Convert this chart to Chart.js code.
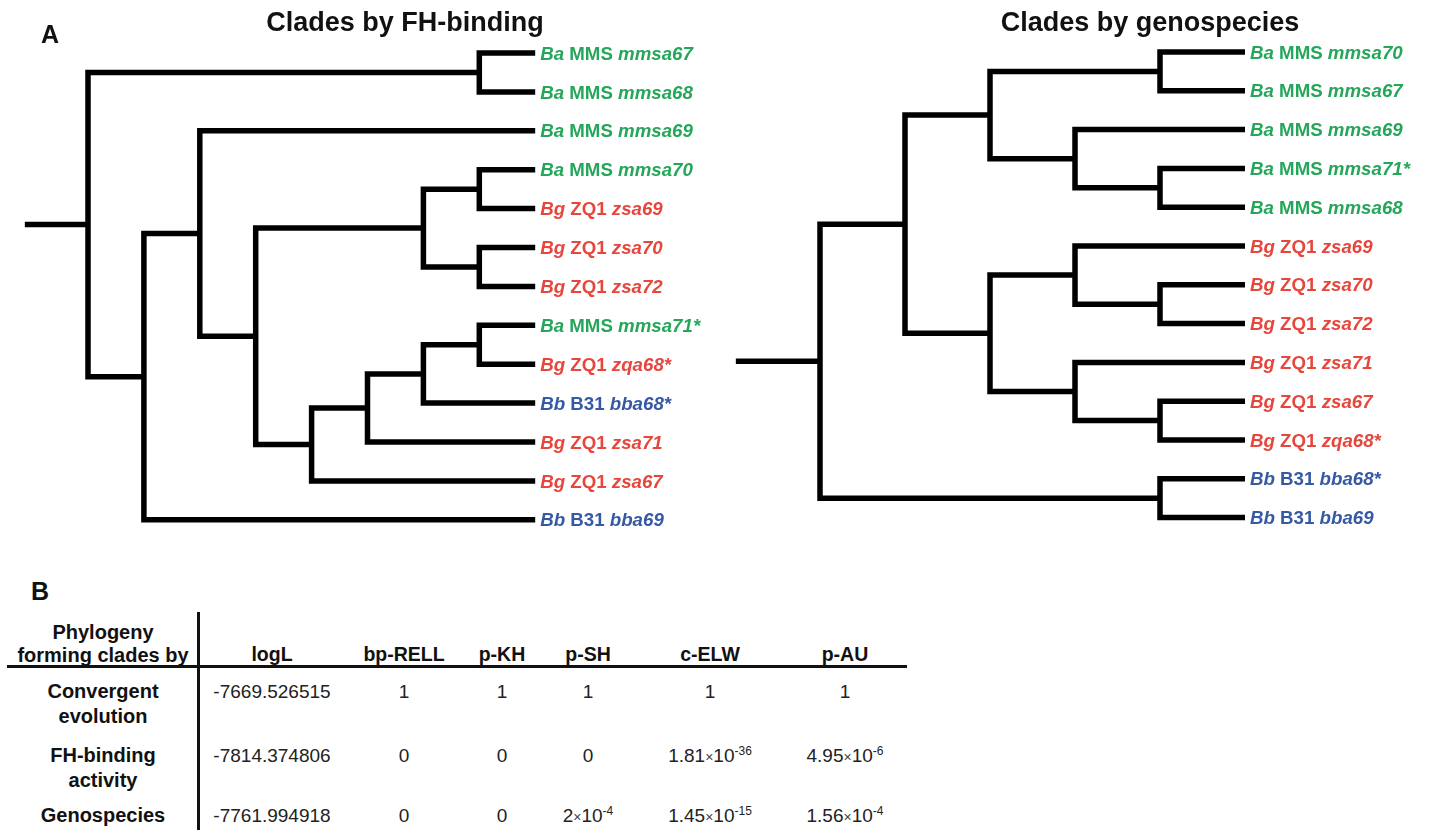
<!DOCTYPE html>
<html>
<head>
<meta charset="utf-8">
<script src="https://cdn.jsdelivr.net/npm/chart.js@4.4.1/dist/chart.umd.min.js"></script>
<style>
  body { margin: 0; background: #fff; font-family: "Liberation Sans", Arial, sans-serif; color: #111; }
  #page { position: relative; width: 1431px; height: 830px; overflow: hidden; background: #fff; }
  .txt { position: absolute; white-space: nowrap; }
  canvas { position: absolute; top: 0; }
  .rule { position: absolute; background: #111; }
  sup { font-size: 12px; vertical-align: 7px; line-height: 0; }
  .x { font-size: 14px; color: #444; }
</style>
</head>
<body>
<div id="page">
  <canvas id="treeLeft" width="715" height="545" style="left:0px"></canvas>
  <canvas id="treeRight" width="716" height="545" style="left:715px"></canvas>
  <div class="rule" style="left:7px; top:665px; width:900px; height:3px"></div>
  <div class="rule" style="left:197px; top:612px; width:3px; height:220px"></div>
</div>
<script>
// tree topologies: [node depth, child, child], leaves are gene names
const leftTree = [0,
  [7, 'mmsa67', 'mmsa68'],
  [1,
    [2, 'mmsa69',
      [3,
        [6, [7, 'mmsa70', 'zsa69'], [7, 'zsa70', 'zsa72']],
        [4, [5, [6, [7, 'mmsa71*', 'zqa68*'], 'bba68*'], 'zsa71'], 'zsa67']
      ]
    ],
    'bba69'
  ]
];
const leftLeafDepth = 8;

const rightTree = [0,
  [1,
    [2, [4, 'mmsa70', 'mmsa67'], [3, 'mmsa69', [4, 'mmsa71*', 'mmsa68']]],
    [2, [3, 'zsa69', [4, 'zsa70', 'zsa72']], [3, 'zsa71', [4, 'zsa67', 'zqa68*']]]
  ],
  [4, 'bba68*', 'bba69']
];
const rightLeafDepth = 5;

// gene prefix -> species / strain
const genePrefixes = ['mmsa', 'zsa', 'zqa', 'bba'];
const prefixSpecies = ['Ba', 'Bg', 'Bg', 'Bb'];
const prefixStrain = ['MMS', 'ZQ1', 'ZQ1', 'B31'];

// table B
const rowHeader = ['Phylogeny', 'forming clades by'];
const colHeaders = ['logL', 'bp-RELL', 'p-KH', 'p-SH', 'c-ELW', 'p-AU'];
const rowLabels = [['Convergent', 'evolution'], ['FH-binding', 'activity'], ['Genospecies']];
const logL = ['-7669.526515', '-7814.374806', '-7761.994918'];
const bpRELL = [1, 0, 0];
const pKH = [1, 0, 0];
const pSH = [1, 0, 2e-4];
const cELW = [1, 1.81e-36, 1.45e-15];
const pAU = [1, 4.95e-6, 1.56e-4];

const speciesColors = { Ba: '#25a65a', Bg: '#e6463c', Bb: '#3659a4' };

const page = document.getElementById('page');

function placeText(html, x, baseline, size, weight, align) {
  const d = document.createElement('div');
  d.className = 'txt';
  d.style.fontSize = size + 'px';
  d.style.lineHeight = size + 'px';
  d.style.fontWeight = weight;
  d.style.top = (baseline - 0.8465 * size) + 'px';
  if (align === 'center') {
    d.style.left = (x - 200) + 'px';
    d.style.width = '400px';
    d.style.textAlign = 'center';
  } else {
    d.style.left = x + 'px';
  }
  d.innerHTML = html;
  page.appendChild(d);
}

// panel letters and titles
placeText('A', 41, 43, 25, 'bold');
placeText('B', 31, 600, 25, 'bold');
placeText('Clades by FH-binding', 405, 32, 27, 'bold', 'center');
placeText('Clades by genospecies', 1150, 32, 27, 'bold', 'center');

function layoutTree(tree, leafDepth, stub) {
  const leaves = [];
  const segs = [];
  function walk(node) {
    if (typeof node === 'string') {
      leaves.push(node);
      return { x: leafDepth, y: leaves.length - 1 };
    }
    const depth = node[0];
    const kids = node.slice(1).map(walk);
    const a = kids[0], b = kids[kids.length - 1];
    segs.push([{ x: a.x, y: a.y }, { x: depth, y: a.y }, { x: depth, y: b.y }, { x: b.x, y: b.y }]);
    return { x: depth, y: (a.y + b.y) / 2 };
  }
  const root = walk(tree);
  segs.push([{ x: root.x - stub, y: root.y }, { x: root.x, y: root.y }]);
  return { leaves, segs };
}

function leafParts(gene) {
  const k = genePrefixes.findIndex(p => gene.startsWith(p));
  return { species: prefixSpecies[k], strain: prefixStrain[k], gene };
}

const labelFont = 18.7;
const leafLabels = {
  id: 'leafLabels',
  afterDatasetsDraw(chart, args, opts) {
    const ctx = chart.ctx;
    const xs = chart.scales.x, ys = chart.scales.y;
    ctx.save();
    ctx.textBaseline = 'alphabetic';
    opts.leaves.forEach((g, i) => {
      const p = leafParts(g);
      let x = xs.getPixelForValue(opts.leafDepth) + 5;
      const y = ys.getPixelForValue(i) + 0.716 * labelFont / 2;
      ctx.fillStyle = speciesColors[p.species];
      const parts = [
        ['italic bold', p.species + ' '],
        ['bold', p.strain + ' '],
        ['italic bold', p.gene]
      ];
      parts.forEach(([style, s]) => {
        ctx.font = style + ' ' + labelFont + 'px "Liberation Sans", Arial, sans-serif';
        ctx.fillText(s, x, y);
        x += ctx.measureText(s).width;
      });
    });
    ctx.restore();
  }
};

function drawTree(id, tree, leafDepth, geom) {
  const t = layoutTree(tree, leafDepth, geom.stub);
  const canvas = document.getElementById(id);
  const W = canvas.width, H = canvas.height;
  const datasets = t.segs.map(pts => ({
    data: pts,
    showLine: true,
    borderColor: '#000',
    borderWidth: 5.5,
    pointRadius: 0,
    borderJoinStyle: 'miter',
    borderCapStyle: 'butt',
    tension: 0,
    fill: false,
    clip: false
  }));
  new Chart(canvas.getContext('2d'), {
    type: 'scatter',
    data: { datasets },
    options: {
      responsive: false,
      animation: false,
      events: [],
      layout: { padding: 0 },
      plugins: {
        legend: { display: false },
        tooltip: { enabled: false },
        leafLabels: { leaves: t.leaves, leafDepth }
      },
      scales: {
        x: { type: 'linear', display: false, min: -geom.x0 / geom.dx, max: (W - geom.x0) / geom.dx },
        y: { type: 'linear', display: false, reverse: true, min: -geom.y0 / geom.dy, max: (H - geom.y0) / geom.dy }
      }
    },
    plugins: [leafLabels]
  });
}

drawTree('treeLeft', leftTree, leftLeafDepth, { x0: 88, dx: 55.9, y0: 53, dy: 38.9, stub: 1.13 });
drawTree('treeRight', rightTree, rightLeafDepth, { x0: 105, dx: 85, y0: 52, dy: 38.8, stub: 0.99 });

// table B
function fmt(v) {
  if (typeof v === 'string') return v;
  if (v === 0 || v === 1) return String(v);
  const [m, e] = v.toExponential().split('e');
  return m + '<span class="x">×</span>10<sup>' + e.replace('+', '') + '</sup>';
}

const colCenters = [103, 272, 404, 502, 588, 710, 845];
const rowBaselines = [698, 762, 822];
const lineStep = 24.5;

placeText(rowHeader[0], colCenters[0], 639, 20, 'bold', 'center');
placeText(rowHeader[1], colCenters[0], 662, 20, 'bold', 'center');
colHeaders.forEach((h, j) => placeText(h, colCenters[j + 1], 662, 19.5, 'bold', 'center'));

const columns = [logL, bpRELL, pKH, pSH, cELW, pAU];
rowLabels.forEach((lines, r) => {
  lines.forEach((s, k) => placeText(s, colCenters[0], rowBaselines[r] + k * lineStep, 20, 'bold', 'center'));
  columns.forEach((col, j) => {
    placeText('<span style="color:#222">' + fmt(col[r]) + '</span>', colCenters[j + 1], rowBaselines[r], 19, 'normal', 'center');
  });
});
</script>
</body>
</html>
